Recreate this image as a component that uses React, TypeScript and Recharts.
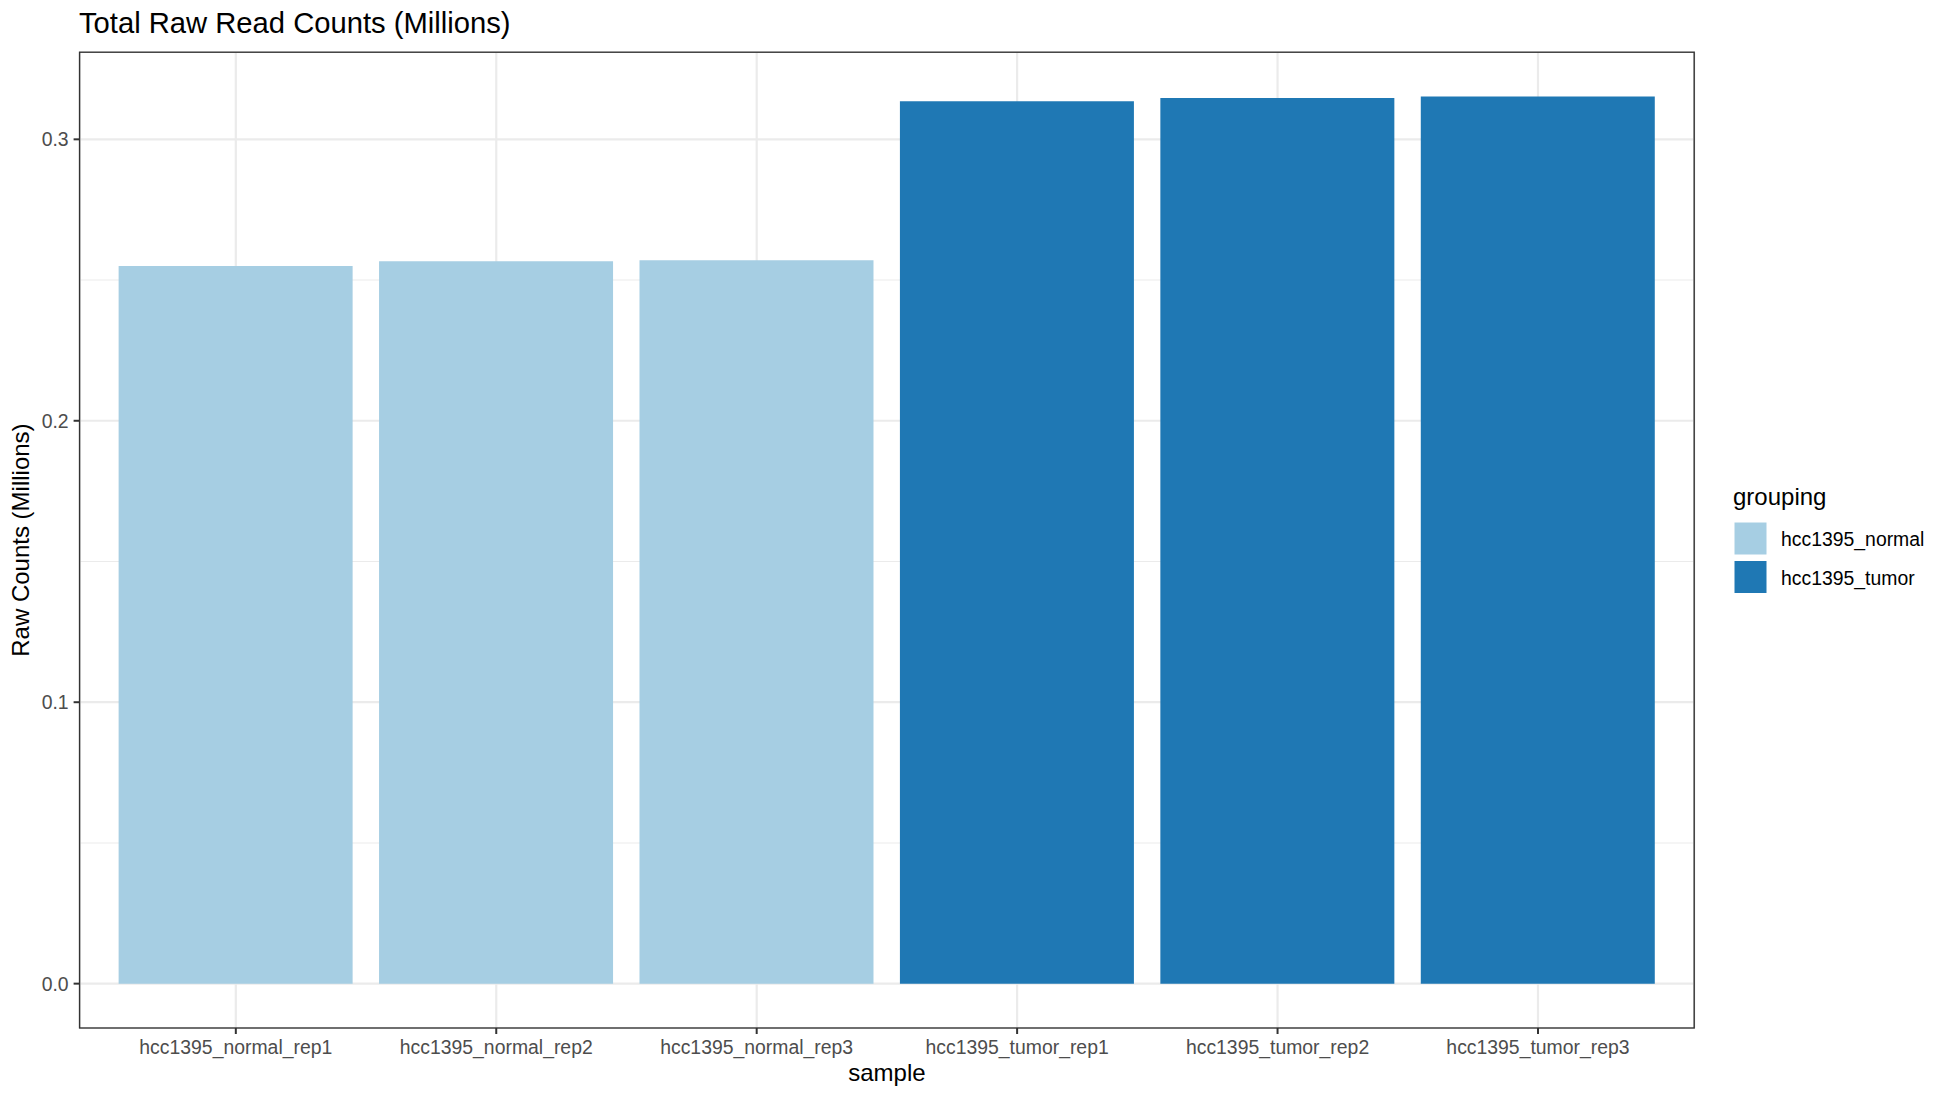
import React from "react";
import { BarChart, Bar, XAxis, YAxis, CartesianGrid, Cell, Label } from "recharts";

const samples = [
  "hcc1395_normal_rep1",
  "hcc1395_normal_rep2",
  "hcc1395_normal_rep3",
  "hcc1395_tumor_rep1",
  "hcc1395_tumor_rep2",
  "hcc1395_tumor_rep3",
];
const rawCounts = [0.255, 0.2567, 0.257, 0.3135, 0.3147, 0.3152];
const sampleGroups = [
  "hcc1395_normal",
  "hcc1395_normal",
  "hcc1395_normal",
  "hcc1395_tumor",
  "hcc1395_tumor",
  "hcc1395_tumor",
];
const groupNames = ["hcc1395_normal", "hcc1395_tumor"];
const groupColors = ["#A6CEE3", "#1F78B4"];
const yTicks = [0, 0.1, 0.2, 0.3];
const yMinorTicks = [0.05, 0.15, 0.25];
const yDomain = [-0.01576, 0.33096];

const data = samples.map((s, i) => ({ sample: s, count: rawCounts[i], group: sampleGroups[i] }));

const FONT = '"Liberation Sans", Arial, Helvetica, sans-serif';
const W = 1949;
const H = 1099;
const PL = 79.6;
const PT = 52.2;
const PR = 1694.2;
const PB = 1028;

export default function App() {
  return (
    <div style={{ position: "absolute", left: 0, top: 0, width: W, height: H, background: "#fff", fontFamily: FONT }}>
      <BarChart
        width={W}
        height={H}
        data={data}
        margin={{ top: PT, right: W - PR, left: 0, bottom: 0 }}
        barCategoryGap="5%"
      >
        <CartesianGrid
          horizontalValues={yMinorTicks}
          vertical={false}
          stroke="#EBEBEB"
          strokeWidth={1.1}
        />
        <CartesianGrid
          horizontalValues={yTicks}
          stroke="#EBEBEB"
          strokeWidth={2.2}
        />
        <XAxis
          dataKey="sample"
          height={H - PB}
          padding={{ left: 26, right: 26 }}
          axisLine={false}
          tickLine={{ stroke: "#333333", strokeWidth: 2 }}
          tickSize={6}
          tickMargin={6}
          tick={{ fill: "#4D4D4D", fontSize: 19.4, fontFamily: FONT }}
          interval={0}
        >
          <Label
            content={(props: any) => {
              const vb = props.viewBox || {};
              return (
                <text
                  x={vb.x + vb.width / 2}
                  y={vb.y + 53}
                  textAnchor="middle"
                  fontSize={24}
                  fontFamily={FONT}
                  fill="#000"
                >
                  sample
                </text>
              );
            }}
          />
        </XAxis>
        <YAxis
          width={PL}
          domain={yDomain}
          ticks={yTicks}
          allowDataOverflow
          axisLine={false}
          tickLine={{ stroke: "#333333", strokeWidth: 2 }}
          tickSize={6}
          tickMargin={5}
          tick={{ fill: "#4D4D4D", fontSize: 19.4, fontFamily: FONT }}
          tickFormatter={(v: number) => v.toFixed(1)}
        >
          <Label
            content={(props: any) => {
              const vb = props.viewBox || {};
              const cx = 21;
              const cy = vb.y + vb.height / 2;
              return (
                <text
                  x={cx}
                  y={cy}
                  textAnchor="middle"
                  dominantBaseline="central"
                  transform={`rotate(-90, ${cx}, ${cy})`}
                  fontSize={24}
                  fontFamily={FONT}
                  fill="#000"
                >
                  Raw Counts (Millions)
                </text>
              );
            }}
          />
        </YAxis>
        <Bar dataKey="count" isAnimationActive={false}>
          {data.map((d, i) => (
            <Cell key={i} fill={groupColors[groupNames.indexOf(d.group)]} />
          ))}
        </Bar>
      </BarChart>
      <svg
        width={W}
        height={H}
        style={{ position: "absolute", left: 0, top: 0, pointerEvents: "none" }}
      >
        <text x={79} y={32.5} fontSize={29.2} fontFamily={FONT} fill="#000">
          Total Raw Read Counts (Millions)
        </text>
        <rect x={PL} y={PT} width={PR - PL} height={PB - PT} fill="none" stroke="#333333" strokeWidth={1.4} />
        <text x={1733} y={505} fontSize={24} fontFamily={FONT} fill="#000">
          grouping
        </text>
        {groupNames.map((g, i) => (
          <g key={g}>
            <rect x={1734} y={522 + i * 38.5} width={33} height={33} fill={groupColors[i]} stroke="#fff" strokeWidth={1} />
            <text
              x={1781}
              y={539 + i * 38.5}
              dominantBaseline="central"
              fontSize={19.4}
              fontFamily={FONT}
              fill="#000"
            >
              {g}
            </text>
          </g>
        ))}
      </svg>
    </div>
  );
}
